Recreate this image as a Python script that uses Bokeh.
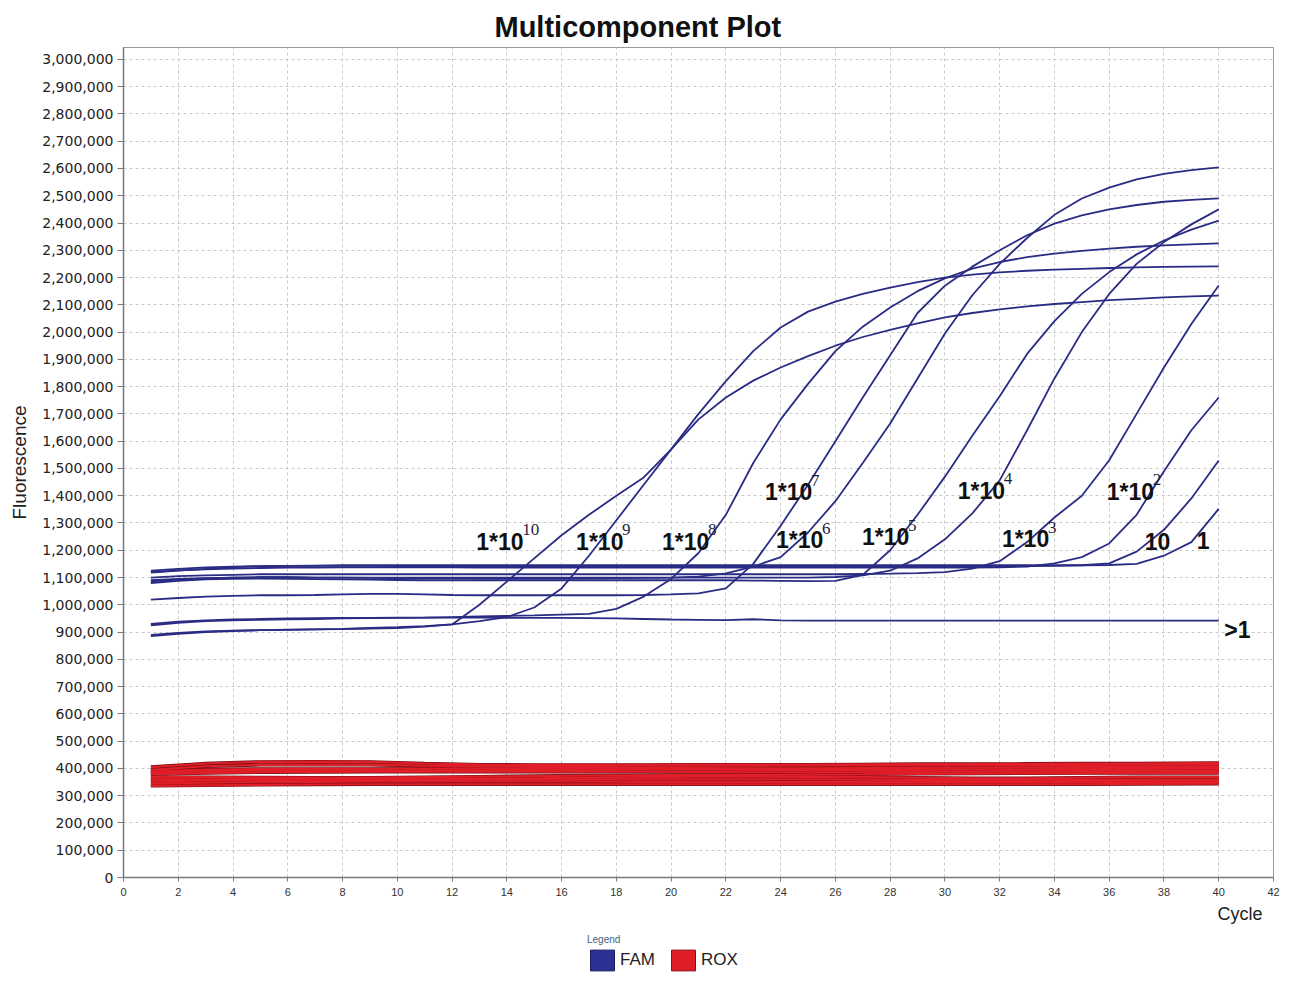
from bokeh.plotting import figure
from bokeh.layouts import column
from bokeh.models import (Range1d, Legend, LegendItem, Title, NumeralTickFormatter,
                          FixedTicker, ColumnDataSource)
from bokeh.core.properties import value
from bokeh.embed import file_html
from bokeh.resources import INLINE

# ---------------- data (fluorescence in thousands) ----------------
cycles = list(range(1, 41))

fam_1e10 = [890, 897, 902, 905, 907, 908, 910, 912, 915, 918, 922, 928, 1000, 1085, 1170, 1255, 1330, 1400, 1467, 1570,
            1680, 1760, 1822, 1870, 1912, 1950, 1982, 2008, 2032, 2054, 2070, 2083, 2094, 2103, 2110, 2117, 2122, 2127, 2131, 2134]
fam_1e9 = [885, 893, 900, 904, 907, 909, 910, 911, 913, 915, 920, 928, 940, 955, 990, 1060, 1180, 1310, 1440, 1570,
           1700, 1820, 1930, 2017, 2075, 2112, 2140, 2163, 2183, 2200, 2211, 2219, 2225, 2229, 2232, 2235, 2237, 2239, 2240, 2241]
fam_1e8 = [925, 934, 940, 943, 945, 947, 948, 950, 951, 952, 953, 955, 957, 959, 961, 964, 967, 985, 1030, 1095,
           1190, 1330, 1520, 1680, 1810, 1930, 2020, 2090, 2150, 2197, 2233, 2257, 2275, 2288, 2298, 2306, 2313, 2318, 2322, 2325]
fam_1e7 = [1019, 1025, 1030, 1033, 1035, 1035, 1036, 1038, 1040, 1040, 1038, 1036, 1035, 1035, 1035, 1035, 1035, 1035, 1036, 1038,
           1042, 1060, 1150, 1290, 1440, 1600, 1760, 1915, 2070, 2170, 2240, 2300, 2355, 2398, 2428, 2450, 2466, 2478, 2485, 2490]
fam_1e6 = [1085, 1092, 1097, 1100, 1101, 1101, 1100, 1100, 1099, 1098, 1097, 1097, 1096, 1096, 1096, 1096, 1097, 1098, 1099, 1100,
           1103, 1115, 1140, 1175, 1265, 1380, 1520, 1665, 1830, 1995, 2135, 2250, 2345, 2430, 2490, 2530, 2560, 2580, 2594, 2604]
fam_1e5 = [1080, 1088, 1093, 1095, 1096, 1095, 1094, 1093, 1092, 1091, 1090, 1090, 1090, 1090, 1090, 1090, 1090, 1090, 1090, 1090,
           1090, 1090, 1089, 1088, 1087, 1088, 1110, 1200, 1330, 1470, 1620, 1765, 1920, 2040, 2140, 2220, 2285, 2336, 2376, 2409]
fam_1e4 = [1090, 1095, 1098, 1100, 1101, 1101, 1100, 1100, 1100, 1100, 1100, 1100, 1100, 1100, 1100, 1100, 1100, 1100, 1100, 1100,
           1100, 1100, 1100, 1100, 1100, 1102, 1108, 1125, 1170, 1240, 1335, 1456, 1640, 1830, 2000, 2140, 2250, 2330, 2395, 2450]
fam_1e3 = [1100, 1105, 1108, 1110, 1112, 1112, 1112, 1112, 1112, 1112, 1112, 1112, 1112, 1112, 1112, 1112, 1112, 1112, 1112, 1112,
           1112, 1112, 1112, 1112, 1112, 1112, 1113, 1114, 1116, 1120, 1133, 1160, 1230, 1320, 1400, 1530, 1700, 1870, 2030, 2171]
fam_1e2 = [1120, 1126, 1130, 1133, 1135, 1136, 1136, 1137, 1137, 1137, 1137, 1137, 1136, 1136, 1136, 1136, 1136, 1136, 1136, 1136,
           1136, 1136, 1136, 1136, 1136, 1136, 1136, 1136, 1136, 1136, 1136, 1137, 1140, 1152, 1175, 1225, 1330, 1490, 1640, 1760]
fam_10 = [1125, 1132, 1137, 1140, 1142, 1143, 1143, 1143, 1143, 1142, 1142, 1142, 1142, 1142, 1142, 1142, 1142, 1142, 1142, 1142,
          1142, 1142, 1142, 1142, 1142, 1142, 1142, 1142, 1142, 1142, 1142, 1142, 1142, 1143, 1145, 1152, 1195, 1275, 1390, 1529]
fam_1 = [1118, 1125, 1132, 1138, 1141, 1143, 1144, 1145, 1145, 1145, 1145, 1145, 1145, 1145, 1145, 1145, 1145, 1145, 1145, 1145,
         1145, 1145, 1145, 1145, 1145, 1145, 1145, 1145, 1145, 1145, 1145, 1145, 1145, 1145, 1145, 1146, 1150, 1180, 1230, 1352]
fam_neg = [930, 938, 943, 946, 948, 950, 951, 952, 952, 953, 953, 953, 953, 952, 952, 952, 951, 950, 948, 946,
           945, 944, 947, 943, 942, 942, 942, 942, 942, 942, 942, 942, 942, 942, 942, 942, 942, 942, 942, 942]

rox_cycles = [1, 3, 5, 7, 9, 11, 13, 15, 17, 19, 21, 23, 25, 27, 29, 31, 33, 35, 37, 40]
rox_1 = [405, 418, 424, 425, 424, 418, 414, 413, 413, 413, 414, 414, 414, 415, 416, 416, 417, 418, 418, 420]
rox_2 = [395, 408, 413, 414, 413, 410, 408, 408, 409, 410, 410, 410, 411, 411, 411, 412, 413, 413, 414, 414]
rox_3 = [388, 396, 398, 398, 398, 399, 400, 401, 401, 401, 401, 400, 400, 401, 402, 403, 404, 405, 406, 406]
rox_4 = [383, 390, 392, 392, 392, 392, 393, 394, 395, 396, 396, 395, 394, 394, 395, 396, 397, 398, 398, 399]
rox_5 = [378, 383, 386, 387, 388, 388, 388, 388, 388, 388, 387, 386, 386, 386, 387, 388, 389, 390, 390, 390]
rox_6 = [368, 368, 367, 366, 366, 368, 370, 372, 374, 375, 376, 376, 377, 378, 380, 381, 382, 383, 383, 383]
rox_7 = [360, 360, 362, 362, 362, 362, 363, 364, 366, 368, 370, 370, 369, 368, 366, 364, 364, 366, 368, 368]
rox_8 = [352, 356, 358, 358, 358, 358, 359, 359, 360, 360, 360, 360, 360, 359, 358, 358, 358, 358, 358, 358]
rox_9 = [344, 348, 350, 351, 352, 352, 352, 352, 352, 351, 351, 350, 350, 350, 350, 350, 350, 350, 350, 350]
rox_10 = [336, 338, 340, 341, 342, 342, 342, 342, 342, 342, 342, 342, 342, 342, 342, 342, 342, 342, 343, 344]

label_base = ["1*10", "1*10", "1*10", "1*10", "1*10", "1*10", "1*10", "1*10", "1*10", "10", "1", ">1"]
label_exp = ["10", "9", "8", "7", "6", "5", "4", "3", "2", "", "", ""]
label_x = [12.88, 16.53, 19.67, 23.43, 23.83, 26.97, 30.47, 32.08, 35.91, 37.3, 39.2, 40.2]
label_y = [1232, 1232, 1232, 1412, 1236, 1247, 1419, 1240, 1415, 1232, 1236, 909]

y_ticks = list(range(0, 3000001, 100000))
x_ticks = list(range(0, 43, 2))

fam_series = [fam_1e10, fam_1e9, fam_1e8, fam_1e7, fam_1e6, fam_1e5, fam_1e4,
              fam_1e3, fam_1e2, fam_10, fam_1, fam_neg]
rox_series = [rox_1, rox_2, rox_3, rox_4, rox_5, rox_6, rox_7, rox_8, rox_9, rox_10]

K = 1000
FAM_COLOR = "#2a2c84"
ROX_COLOR = "#e01e28"
NAN = float("nan")
W = 1282

p = figure(width=W, height=928, output_backend="svg", toolbar_location=None,
           x_range=Range1d(0, 42), y_range=Range1d(0, 3043600),
           min_border_left=123, min_border_right=9, min_border_top=47, min_border_bottom=51)

p.title.text = "Multicomponent Plot"
p.title.text_font = "Liberation Sans"
p.title.text_font_size = "29px"
p.title.text_font_style = "bold"
p.title.text_color = "#111111"
p.title.align = "left"
p.title.offset = 371

# axes
p.xaxis.ticker = FixedTicker(ticks=x_ticks)
p.yaxis.ticker = FixedTicker(ticks=y_ticks)
p.yaxis.formatter = NumeralTickFormatter(format="0,0")
p.xaxis.major_label_text_font = "Liberation Sans"
p.xaxis.major_label_text_font_size = "11px"
p.xaxis.major_label_text_color = "#333333"
p.yaxis.major_label_text_font = "DejaVu Sans"
p.yaxis.major_label_text_font_size = "14px"
p.yaxis.major_label_text_color = "#222222"
p.yaxis.axis_label = "Fluorescence"
p.yaxis.axis_label_text_font = "Liberation Sans"
p.yaxis.axis_label_text_font_size = "19px"
p.yaxis.axis_label_text_font_style = "normal"
p.yaxis.axis_label_text_color = "#222222"
p.yaxis.axis_label_standoff = 9
for ax in (p.xaxis, p.yaxis):
    ax.axis_line_color = "#7a7a7a"
    ax.axis_line_width = 1.5
    ax.major_tick_line_color = "#7a7a7a"
    ax.major_tick_in = 0
    ax.minor_tick_line_color = None
p.yaxis.major_tick_out = 6
p.xaxis.major_tick_out = 4
p.yaxis.major_label_standoff = 4
p.xaxis.major_label_standoff = 6

p.xgrid.grid_line_color = "#c8c8c8"
p.ygrid.grid_line_color = "#c8c8c8"
p.xgrid.grid_line_dash = "3 3"
p.ygrid.grid_line_dash = "3 3"
p.outline_line_color = "#9a9a9a"
p.outline_line_width = 1

# "Cycle" caption under the x axis, right aligned
p.add_layout(Title(text="Cycle", align="right", offset=11, text_font="Liberation Sans",
                   text_font_size="18px", text_font_style="normal", text_color="#222222",
                   standoff=7), "below")

# ROX band
for s in rox_series:
    p.line(rox_cycles, [v * K for v in s], line_color="#6e0d14", line_width=3.4)
for s in rox_series:
    p.line(rox_cycles, [v * K for v in s], line_color=ROX_COLOR, line_width=2.2)

# FAM curves
for s in fam_series:
    p.line(cycles, [v * K for v in s], line_color=FAM_COLOR, line_width=1.8)

# curve labels
lab_src = ColumnDataSource(dict(x=label_x, y=[v * K for v in label_y], base=label_base, exp=label_exp))
p.text(x="x", y="y", text="base", source=lab_src, text_font=value("Liberation Sans"),
       text_font_size="23px", text_font_style="bold", text_color="#111111",
       text_align="left", text_baseline="alphabetic")
p.text(x="x", y="y", text="exp", source=lab_src, text_font=value("Liberation Serif"),
       text_font_size="17px", text_color="#1d1d3a", text_align="left", text_baseline="alphabetic",
       x_offset=46, y_offset=-12)

# legend strip under the chart (its frame is aligned with the chart frame)
leg = figure(width=W, height=46, output_backend="svg", toolbar_location=None,
             x_range=Range1d(0, 1), y_range=Range1d(0, 1), x_axis_type=None, y_axis_type=None,
             min_border=0, outline_line_color=None)
fam_r = leg.quad(left=[NAN], right=[NAN], top=[NAN], bottom=[NAN], fill_color="#2b3092", line_color="#1a1d5e")
rox_r = leg.quad(left=[NAN], right=[NAN], top=[NAN], bottom=[NAN], fill_color=ROX_COLOR, line_color="#8a1016")
legend = Legend(items=[LegendItem(label="FAM", renderers=[fam_r]),
                       LegendItem(label="ROX", renderers=[rox_r])],
                orientation="horizontal", title="Legend", location=(463, 0),
                title_text_font_size="10px", title_text_color="#3c6384",
                title_text_font="Liberation Sans", title_text_font_style="normal",
                title_standoff=2,
                label_text_font="Liberation Sans", label_text_font_size="17px",
                label_text_color="#222222",
                glyph_width=30, glyph_height=26, spacing=13, label_standoff=3,
                border_line_alpha=0, background_fill_alpha=0, padding=1, margin=0)
leg.add_layout(legend)

open("out.html", "w").write(file_html(column(p, leg, spacing=0), INLINE))
